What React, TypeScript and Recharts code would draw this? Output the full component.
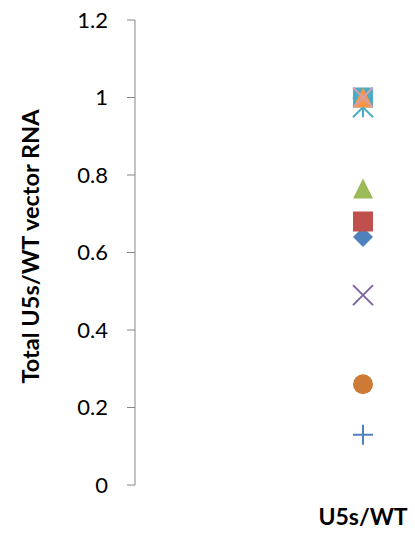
import { ScatterChart, Scatter, XAxis, YAxis } from 'recharts';

// one point per series, all in the same category
const categories = ['U5s/WT'];
const seriesNames = ['s1', 's2', 's3', 's4', 's5', 's6', 's7', 's8', 's9', 's10'];
const seriesValues = [0.64, 0.68, 0.765, 0.49, 0.975, 0.26, 0.13, 1.0, 1.0, 1.0];
const yTicks = [0, 0.2, 0.4, 0.6, 0.8, 1, 1.2];

// marker style per series
const markers = ['diamond', 'square', 'triangle', 'x', 'star', 'circle', 'plus', 'square', 'triangle', 'x'];
const colors = ['#4F81BD', '#C0504D', '#9BBB59', '#8064A2', '#4BACC6', '#CD7A37', '#4F81BD', '#4BACC6', '#F79646', '#D4A0AE'];

const FONT = 'Lato, "Open Sans", sans-serif';
const R = 10;

function makeShape(kind: string, color: string) {
  return (props: any) => {
    const { cx, cy } = props;
    switch (kind) {
      case 'diamond':
        return <polygon points={`${cx},${cy - R} ${cx + R},${cy} ${cx},${cy + R} ${cx - R},${cy}`} fill={color} />;
      case 'square':
        return <rect x={cx - R} y={cy - R} width={2 * R} height={2 * R} fill={color} />;
      case 'triangle':
        return <polygon points={`${cx},${cy - R} ${cx + R},${cy + R} ${cx - R},${cy + R}`} fill={color} />;
      case 'circle':
        return <circle cx={cx} cy={cy} r={R} fill={color} />;
      case 'x':
        return (
          <path d={`M${cx - R},${cy - R}L${cx + R},${cy + R}M${cx - R},${cy + R}L${cx + R},${cy - R}`} stroke={color} strokeWidth={2} fill="none" />
        );
      case 'plus':
        return (
          <path d={`M${cx - R},${cy}L${cx + R},${cy}M${cx},${cy - R}L${cx},${cy + R}`} stroke={color} strokeWidth={2} fill="none" />
        );
      case 'star':
        return (
          <path
            d={`M${cx - R},${cy - R}L${cx + R},${cy + R}M${cx - R},${cy + R}L${cx + R},${cy - R}M${cx},${cy - R}L${cx},${cy + R}`}
            stroke={color}
            strokeWidth={2}
            fill="none"
          />
        );
      default:
        return <g />;
    }
  };
}

const YLabel = (props: any) => {
  const { viewBox } = props;
  const x = viewBox.x + 30;
  const y = viewBox.y + viewBox.height / 2 - 6;
  return (
    <text
      x={x}
      y={y}
      transform={`rotate(-90, ${x}, ${y})`}
      textAnchor="middle"
      dominantBaseline="central"
      fontFamily={FONT}
      fontWeight="bold"
      fontSize={23.5}
      fill="#000"
    >
      Total U5s/WT vector RNA
    </text>
  );
};

export default function App() {
  return (
    <div style={{ position: 'absolute', left: 0, top: 0, background: '#fff' }}>
      <ScatterChart width={415} height={534} margin={{ top: 20, right: 20, bottom: 0, left: 0 }}>
        <XAxis
          dataKey="cat"
          type="category"
          allowDuplicatedCategory={false}
          ticks={categories}
          height={49}
          padding={{ left: 196, right: 0 }}
          axisLine={false}
          tickLine={false}
          tickMargin={18}
          tick={{ fontFamily: FONT, fontWeight: 'bold', fontSize: 23, fill: '#000' }}
        />
        <YAxis
          type="number"
          dataKey="v"
          domain={[0, 1.2]}
          ticks={yTicks}
          width={135}
          tickSize={8}
          tickMargin={19}
          stroke="#868686"
          tick={{ fontFamily: FONT, fontSize: 22, fill: '#000' }}
          label={<YLabel />}
        />
        {seriesValues.map((v, i) => (
          <Scatter
            key={seriesNames[i]}
            name={seriesNames[i]}
            data={[{ cat: categories[0], v }]}
            shape={makeShape(markers[i], colors[i])}
            isAnimationActive={false}
          />
        ))}
      </ScatterChart>
    </div>
  );
}
